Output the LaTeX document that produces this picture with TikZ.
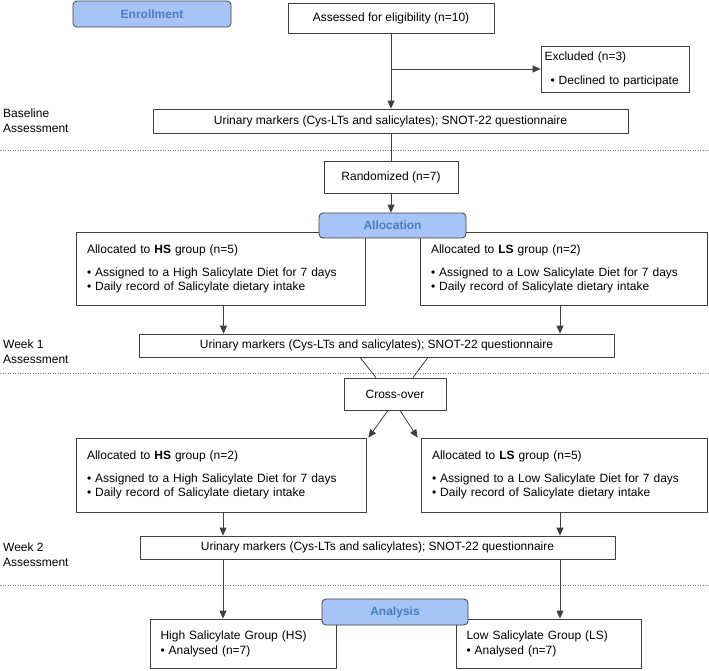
\documentclass[tikz,border=0pt]{standalone}
\usepackage{fontspec}
\setmainfont{Liberation Sans}
\usetikzlibrary{arrows.meta}
\definecolor{phasefill}{RGB}{166,196,245}
\definecolor{phasetext}{RGB}{74,126,190}
\definecolor{linec}{RGB}{64,64,64}
\begin{document}
\begin{tikzpicture}[x=1pt,y=-1pt,>={Triangle[length=8pt,width=7pt]},line join=round,
	font=\fontsize{12}{14}\selectfont,
	box/.style={draw=linec,fill=white,line width=.8pt,inner sep=0pt},
	grp/.style={box,align=left,inner xsep=11pt},
	phase/.style={box,fill=phasefill,rounded corners=4pt,text=phasetext,font=\fontsize{12}{14}\selectfont\bfseries},
	lab/.style={anchor=west,align=left,inner sep=0pt},
	sep/.style={gray,line width=.6pt,dash pattern=on 1pt off 1.5pt},
	conn/.style={draw=linec,line width=.8pt}]
	\useasboundingbox (0,0) rectangle (709,670);
	\foreach \y in {150,373,585} \draw[sep] (0,\y) -- (709,\y);
	% left labels
	\node[lab] (lbase) at (3,120.5) {Baseline\\[1pt]Assessment};
	\node[lab] (lwk1) at (3,351.5) {Week 1\\[1pt]Assessment};
	\node[lab] (lwk2) at (3,555) {Week 2\\[1pt]Assessment};
	% enrollment
	\node[phase,minimum width=158pt,minimum height=26pt] (enroll) at (152,14) {Enrollment};
	\node[box,minimum width=206pt,minimum height=30pt] (assess) at (391,18) {Assessed for eligibility (n=10)};
	\node[box,align=left,inner xsep=3.5pt,text width=141pt,minimum height=46pt] (excl) at (615,69) {Excluded (n=3)\\[10pt]\hspace*{6pt}• Declined to participate};
	\node[box,minimum width=475pt,minimum height=24pt] (base) at (390.5,121) {Urinary markers (Cys-LTs and salicylates); SNOT-22 questionnaire};
	\node[box,minimum width=134pt,minimum height=32pt] (rand) at (391,177) {Randomized (n=7)};
	% week 1
	\node[grp,text width=267pt,minimum height=73pt] (hs1) at (220.5,268.5) {Allocated to \textbf{HS} group (n=5)\\[9pt]• Assigned to a High Salicylate Diet for 7 days\\• Daily record of Salicylate dietary intake};
	\node[grp,text width=265pt,minimum height=73pt] (ls1) at (563.5,268.5) {Allocated to \textbf{LS} group (n=2)\\[9pt]• Assigned to a Low Salicylate Diet for 7 days\\• Daily record of Salicylate dietary intake};
	\node[phase,minimum width=147pt,minimum height=25pt] (alloc) at (392.5,225.5) {Allocation};
	\node[box,minimum width=475pt,minimum height=23pt] (wk1) at (376.5,345.5) {Urinary markers (Cys-LTs and salicylates); SNOT-22 questionnaire};
	\node[box,minimum width=102pt,minimum height=32pt] (cross) at (395,394) {Cross-over};
	% week 2
	\node[grp,text width=268pt,minimum height=74pt] (hs2) at (221,475) {Allocated to \textbf{HS} group (n=2)\\[9pt]• Assigned to a High Salicylate Diet for 7 days\\• Daily record of Salicylate dietary intake};
	\node[grp,text width=264pt,minimum height=74pt] (ls2) at (564,475) {Allocated to \textbf{LS} group (n=5)\\[9pt]• Assigned to a Low Salicylate Diet for 7 days\\• Daily record of Salicylate dietary intake};
	\node[box,minimum width=475pt,minimum height=23pt] (wk2) at (377.5,547.5) {Urinary markers (Cys-LTs and salicylates); SNOT-22 questionnaire};
	% analysis
	\node[grp,inner xsep=10.5pt,text width=165pt,minimum height=49pt] (fhs) at (243,643.5) {High Salicylate Group (HS)\\[1pt]• Analysed (n=7)};
	\node[grp,inner xsep=10.5pt,text width=164pt,minimum height=49pt] (fls) at (548.5,643.5) {Low Salicylate Group (LS)\\[1pt]• Analysed (n=7)};
	\node[phase,minimum width=146pt,minimum height=26pt] (anal) at (395,612) {Analysis};
	% connectors
	\draw[conn,->] (assess.south) -- (assess.south |- base.north);
	\coordinate (brk) at (assess.south |- excl.west);
	\draw[conn,->] (brk) -- (excl.west);
	\draw[conn] (rand.north |- base.south) -- (rand.north);
	\draw[conn,->] (rand.south) -- (rand.south |- alloc.north);
	\draw[conn,->] ([xshift=3pt]hs1.south) -- ([xshift=3pt]hs1.south |- wk1.north);
	\draw[conn,->] ([xshift=-3.5pt]ls1.south) -- ([xshift=-3.5pt]ls1.south |- wk1.north);
	\draw[conn] ([xshift=-16.5pt]wk1.south) -- ([xshift=-19pt]cross.north);
	\draw[conn] ([xshift=51.5pt]wk1.south) -- ([xshift=18pt]cross.north);
	\draw[conn,->] ([xshift=-7pt]cross.south) -- ([xshift=2pt]hs2.north east);
	\draw[conn,->] ([xshift=5pt]cross.south) -- ([xshift=-3pt]ls2.north west);
	\draw[conn,->] ([xshift=2pt]hs2.south) -- ([xshift=2pt]hs2.south |- wk2.north);
	\draw[conn,->] ([xshift=-4pt]ls2.south) -- ([xshift=-4pt]ls2.south |- wk2.north);
	\draw[conn,->] ([xshift=2pt]hs2.south |- wk2.south) -- ([xshift=2pt]hs2.south |- fhs.north);
	\draw[conn,->] ([xshift=-4pt]ls2.south |- wk2.south) -- ([xshift=-4pt]ls2.south |- fls.north);
\end{tikzpicture}
\end{document}
